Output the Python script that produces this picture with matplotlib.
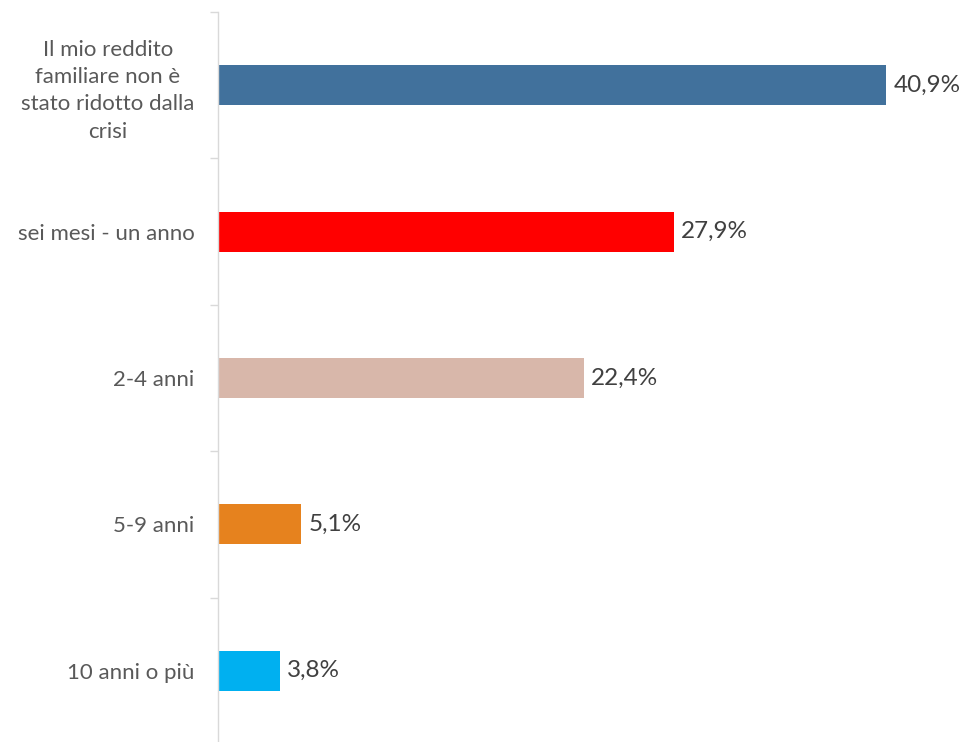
import numpy as np
import matplotlib.pyplot as plt

# data
categories = ["Il mio reddito\nfamiliare non è\nstato ridotto dalla\ncrisi",
              "sei mesi - un anno", "2-4 anni", "5-9 anni", "10 anni o più"]
values = [40.9, 27.9, 22.4, 5.1, 3.8]
colors = ["#41719C", "#FF0000", "#D8B7AA", "#E6821E", "#00B0F0"]

plt.rcParams['font.family'] = ['Lato', 'DejaVu Sans']

fig = plt.figure(figsize=(9.62, 7.42), dpi=100)
ax = fig.add_axes([218 / 962, -2 / 742, 1 - 218 / 962, 732 / 742])

y = np.arange(len(categories))
ax.barh(y, values, height=0.274, color=colors)
ax.set_ylim(len(categories) - 0.5, -0.5)
ax.set_xlim(0, 45.55)

for yi, v in zip(y, values):
    ax.text(v + 0.45, yi, f"{v:.1f}%".replace(".", ","), va='center', ha='left',
            fontsize=17.5, color='#404040')

ax.set_yticks(y)
ax.set_yticklabels(categories, fontsize=16, color='#595959', ha='right',
                   multialignment='center', linespacing=1.45)
ax.tick_params(axis='y', which='major', length=0, pad=17)
ax.set_yticks(np.arange(len(categories) + 1) - 0.5, minor=True)
ax.tick_params(axis='y', which='minor', length=6, color='#D9D9D9', width=1)
ax.set_xticks([])

for s in ['top', 'right', 'bottom']:
    ax.spines[s].set_visible(False)
ax.spines['left'].set_color('#D9D9D9')
ax.spines['left'].set_linewidth(1)

fig.savefig('out.png', dpi=100)
